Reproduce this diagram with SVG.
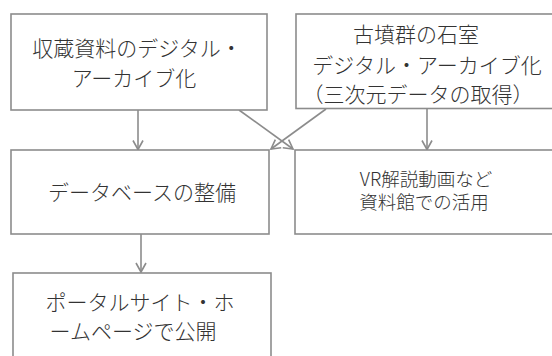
<svg xmlns="http://www.w3.org/2000/svg" width="552" height="356" viewBox="0 0 552 356">
<style>
.box{fill:#fff;stroke:#8c8c8c;stroke-width:1.6}
.t{font-family:"Noto Sans CJK JP","Noto Sans",sans-serif;font-weight:300;fill:#333;font-size:21px}
.s{font-size:18.5px}
.c{stroke:#8c8c8c;stroke-width:1.6;fill:none}
</style>
<defs>
<marker id="ah" markerUnits="userSpaceOnUse" markerWidth="14" markerHeight="14" viewBox="-11 -7 14 14" refX="0" refY="0" orient="auto">
<path d="M-9,-5 L0,0 L-9,5" fill="none" stroke="#8c8c8c" stroke-width="1.6"/>
</marker>
</defs>
<rect width="552" height="356" fill="#fff"/>
<g id="connectors">
<line class="c" x1="138" y1="110" x2="138" y2="149.5" marker-end="url(#ah)"/>
<line class="c" x1="239" y1="110" x2="293" y2="149" marker-end="url(#ah)"/>
<line class="c" x1="326" y1="109" x2="271" y2="149" marker-end="url(#ah)"/>
<line class="c" x1="427" y1="108.5" x2="427" y2="149.5" marker-end="url(#ah)"/>
<line class="c" x1="141" y1="234" x2="141" y2="272" marker-end="url(#ah)"/>
</g>
<g id="n1">
<rect class="box" x="11" y="14" width="256" height="96"/>
<text class="t" x="137" y="56" text-anchor="middle">収蔵資料のデジタル・</text>
<text class="t" x="134" y="86" text-anchor="middle">アーカイブ化</text>
</g>
<g id="n2">
<rect class="box" x="296" y="14" width="260" height="94.5"/>
<text class="t" x="416" y="42" text-anchor="middle">古墳群の石室</text>
<text class="t" x="427" y="73" text-anchor="middle">デジタル・アーカイブ化</text>
<text class="t" x="418" y="102" text-anchor="middle">（三次元データの取得）</text>
</g>
<g id="n3">
<rect class="box" x="11" y="150" width="258" height="84"/>
<text class="t" x="142" y="200" text-anchor="middle">データベースの整備</text>
</g>
<g id="n4">
<rect class="box" x="295" y="150" width="261" height="84"/>
<text class="t s" x="426" y="186" text-anchor="middle">VR解説動画など</text>
<text class="t s" x="424" y="208.5" text-anchor="middle">資料館での活用</text>
</g>
<g id="n5">
<rect class="box" x="13" y="273" width="258" height="100"/>
<text class="t" x="140" y="310" text-anchor="middle">ポータルサイト・ホ</text>
<text class="t" x="133" y="339" text-anchor="middle">ームページで公開</text>
</g>
</svg>
